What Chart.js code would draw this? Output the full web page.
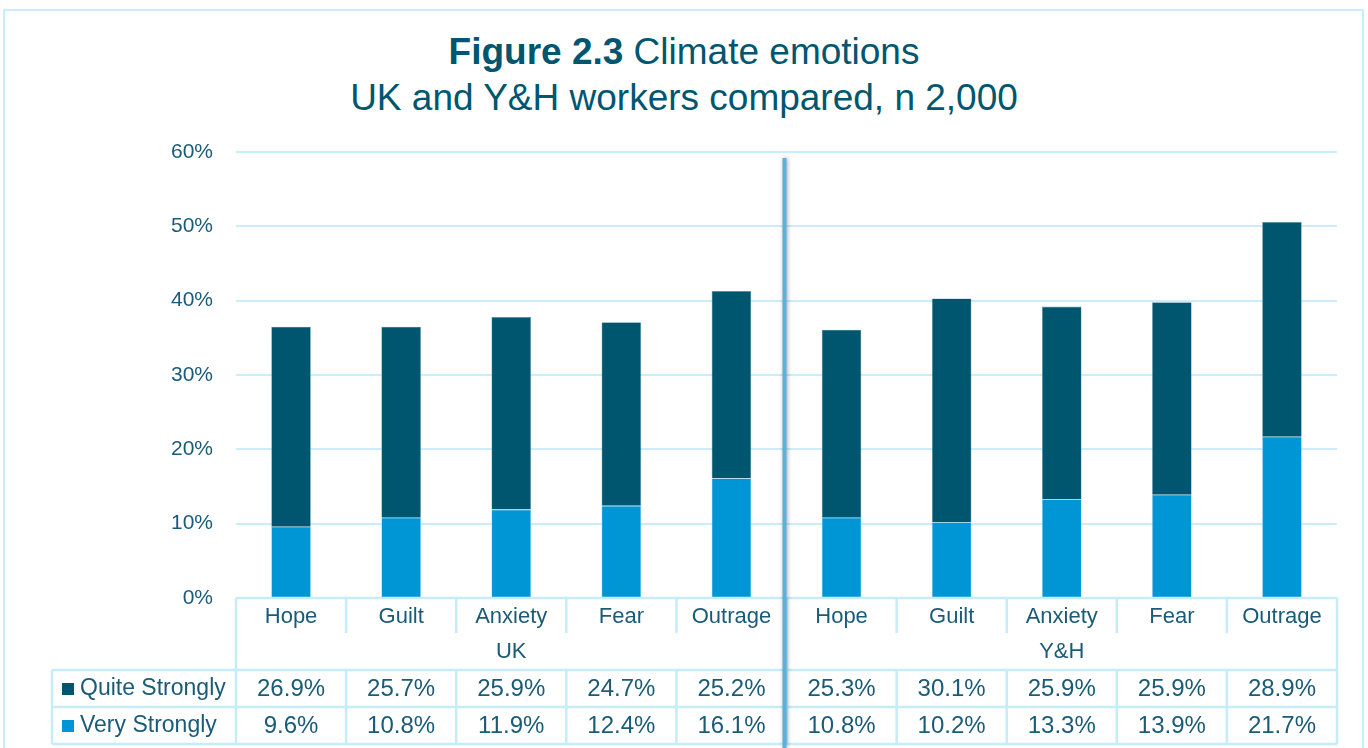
<!DOCTYPE html>
<html lang="en">
<head>
  <meta charset="utf-8">
  <title>Figure 2.3 Climate emotions</title>
  <script src="https://cdn.jsdelivr.net/npm/chart.js"></script>
  <style>
    * { box-sizing:border-box; margin:0; padding:0 }
    html, body { width:1368px; height:748px; background:#fff; overflow:hidden }
    body { position:relative; font-family:"Liberation Sans", Arial, sans-serif }
    #frame {
      position:absolute; left:3px; top:9px; width:1361px; height:760px;
      border:2px solid #c9eefb
    }
    #title {
      position:absolute; left:0; top:29px; width:1368px; text-align:center;
      color:#00566f; font-size:37px; line-height:46px
    }
    #title b { font-weight:bold }
    #wrap { position:absolute; left:0; top:0; width:1368px; height:748px }
  </style>
</head>
<body>
  <div id="frame"></div>
  <div id="title"><b>Figure 2.3</b> Climate emotions<br>UK and Y&amp;H workers compared, n 2,000</div>
  <div id="wrap"><canvas id="c"></canvas></div>

  <script>
  // ===== DATA =====
  const categories    = ['Hope','Guilt','Anxiety','Fear','Outrage','Hope','Guilt','Anxiety','Fear','Outrage'];
  const groups        = ['UK','Y&H'];
  const groupSize     = 5;
  const seriesNames   = ['Quite Strongly','Very Strongly'];
  const quiteStrongly = [26.9, 25.7, 25.9, 24.7, 25.2, 25.3, 30.1, 25.9, 25.9, 28.9];
  const veryStrongly  = [ 9.6, 10.8, 11.9, 12.4, 16.1, 10.8, 10.2, 13.3, 13.9, 21.7];
  const yTicks        = [0, 10, 20, 30, 40, 50, 60];

  // ===== STYLE =====
  const darkCol  = '#00566f';
  const lightCol = '#0096d6';
  const textCol  = '#1a5b78';
  const lineCol  = '#c6ecfa';
  const FONT     = '"Liberation Sans", Arial, sans-serif';

  // data table under the plot, built from the x scale
  const dataTable = {
    id:'dataTable',
    afterDraw(chart) {
      const ctx = chart.ctx, x = chart.scales.x, area = chart.chartArea;
      const n = categories.length;
      const step = (area.right - area.left) / n;
      const top = area.bottom;
      const catBottom = top + 35, grpBottom = top + 72;
      const r1 = grpBottom + 37, r2 = r1 + 37;
      const legLeft = 52;
      ctx.save();
      ctx.strokeStyle = lineCol; ctx.lineWidth = 2.5;
      const line = (x1,y1,x2,y2) => { ctx.beginPath(); ctx.moveTo(x1,y1); ctx.lineTo(x2,y2); ctx.stroke(); };
      // horizontals
      line(area.left, top, area.right, top);
      line(legLeft, grpBottom, area.right, grpBottom);
      line(legLeft, r1, area.right, r1);
      line(legLeft, r2, area.right, r2);
      // verticals
      line(legLeft, grpBottom, legLeft, r2);
      for (let i = 0; i <= n; i++) {
        const bx = area.left + i * step;
        if (i === 0 || i === n || i % groupSize === 0) line(bx, top, bx, r2);
        else { line(bx, top, bx, catBottom); line(bx, grpBottom, bx, r2); }
      }
      // texts
      ctx.fillStyle = textCol; ctx.textAlign = 'center'; ctx.textBaseline = 'middle';
      ctx.font = '22px ' + FONT;
      categories.forEach((c, i) => ctx.fillText(c, x.getPixelForValue(i), top + 19));
      groups.forEach((g, gi) => {
        const mid = (x.getPixelForValue(gi*groupSize) + x.getPixelForValue(gi*groupSize + groupSize - 1)) / 2;
        ctx.fillText(g, mid, catBottom + 19);
      });
      ctx.font = '24px ' + FONT;
      quiteStrongly.forEach((v, i) => ctx.fillText(v.toFixed(1) + '%', x.getPixelForValue(i), grpBottom + 19));
      veryStrongly.forEach((v, i) => ctx.fillText(v.toFixed(1) + '%', x.getPixelForValue(i), r1 + 19));
      // legend keys
      ctx.textAlign = 'left'; ctx.font = '23px ' + FONT;
      [[darkCol, grpBottom], [lightCol, r1]].forEach(([col, y], k) => {
        ctx.fillStyle = col; ctx.fillRect(62, y + 13, 12, 12);
        ctx.fillStyle = textCol; ctx.fillText(seriesNames[k], 80, y + 19);
      });
      // group separator
      const sx = area.left + groupSize * step - 2;
      ctx.shadowColor = 'rgba(0,0,0,0.35)'; ctx.shadowBlur = 4; ctx.shadowOffsetX = 1;
      ctx.strokeStyle = '#58b2dd'; ctx.lineWidth = 4;
      line(sx, area.top + 6, sx, chart.height);
      ctx.restore();
    }
  };

  new Chart(document.getElementById('c'), {
    type:'bar',
    data:{
      labels:categories,
      datasets:[
        { label:seriesNames[1], data:veryStrongly, backgroundColor:lightCol, borderColor:'#8fd0ec', borderWidth:0.6 },
        { label:seriesNames[0], data:quiteStrongly, backgroundColor:darkCol, borderColor:'#6aa3b6', borderWidth:0.6 }
      ]
    },
    options:{
      responsive:true, maintainAspectRatio:false, animation:false,
      layout:{ padding:{ left:0, top:152, right:31, bottom:150 } },
      datasets:{ bar:{ barPercentage:0.36, categoryPercentage:1 } },
      plugins:{ legend:{display:false}, title:{display:false}, tooltip:{enabled:false} },
      scales:{
        x:{ stacked:true, display:false },
        y:{
          stacked:true, min:0, max:60,
          afterFit: s => { s.width = 236; },
          afterBuildTicks: s => { s.ticks = yTicks.map(v => ({ value:v })); },
          border:{ display:false },
          grid:{ color:'#c9eefb', lineWidth:2, drawTicks:false },
          ticks:{ padding:23, color:textCol, font:{ family:FONT, size:21 }, callback: v => v + '%' }
        }
      }
    },
    plugins:[dataTable]
  });
  </script>
</body>
</html>
